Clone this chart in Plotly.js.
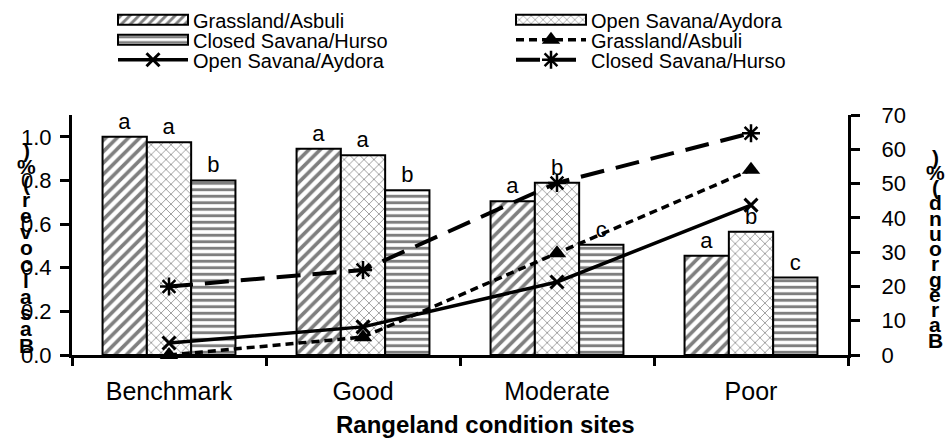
<!DOCTYPE html>
<html><head><meta charset="utf-8">
<script src="https://cdn.plot.ly/plotly-3.0.1.min.js"></script>
<style>html,body{margin:0;padding:0;background:#fff}</style>
</head><body><div id="chart" style="width:946px;height:440px"></div>
<script>
const categories = ['Benchmark', 'Good', 'Moderate', 'Poor'];
const seriesNames = ['Grassland/Asbuli', 'Open Savana/Aydora', 'Closed Savana/Hurso'];
// basal cover (left axis, bars)
const coverGrassland = [1.0, 0.945, 0.705, 0.455];
const coverOpen = [0.975, 0.915, 0.79, 0.565];
const coverClosed = [0.80, 0.755, 0.505, 0.355];
// significance letters above bars
const lettersGrassland = ['a', 'a', 'a', 'a'];
const lettersOpen = ['a', 'a', 'b', 'b'];
const lettersClosed = ['b', 'b', 'c', 'c'];
// bare ground (right axis, lines)
const bareGrassland = [0, 5.2, 29.7, 54];
const bareOpen = [3.5, 8.2, 21.3, 43.7];
const bareClosed = [20, 24.8, 50.2, 64.7];
// ticks
const leftTickVals = [0, 0.2, 0.4, 0.6, 0.8, 1.0];
const leftTickText = ['0.0', '0.2', '0.4', '0.6', '0.8', '1.0'];
const rightTickVals = [0, 10, 20, 30, 40, 50, 60, 70];
const rightTickText = ['0', '10', '20', '30', '40', '50', '60', '70'];
const leftTitle = 'Basal cover (%)';
const rightTitle = 'Bare ground (%)';
const xTitle = 'Rangeland condition sites';

const FONT = 'Liberation Sans, Arial, sans-serif';
const barPatterns = [
  {shape: '/', size: 8, solidity: 0.45},
  {shape: 'x', size: 7, solidity: 0.2},
  {shape: '-', size: 6.5, solidity: 0.45}
];
const barValues = [coverGrassland, coverOpen, coverClosed];
const barLetters = [lettersGrassland, lettersOpen, lettersClosed];

const traces = [];
for (let i = 0; i < 3; i++) {
  traces.push({
    type: 'bar', name: seriesNames[i], x: categories, y: barValues[i],
    xaxis: 'x', yaxis: 'y',
    text: barLetters[i], textposition: 'outside', cliponaxis: false,
    constraintext: 'none',
    textfont: {family: FONT, size: 22, color: '#000'},
    marker: {color: '#fff', line: {color: '#000', width: 2},
      pattern: Object.assign({fgcolor: '#000', bgcolor: '#fff', fillmode: 'overlay'}, barPatterns[i])},
    hoverinfo: 'skip'
  });
}
traces.push({
  type: 'scatter', mode: 'lines+markers', name: seriesNames[0], x: categories, y: bareGrassland,
  xaxis: 'x', yaxis: 'y2', cliponaxis: false,
  line: {color: '#000', width: 3.5, dash: '8px,5px'},
  marker: {symbol: 'triangle-up', size: 16, color: '#000'}
});
traces.push({
  type: 'scatter', mode: 'lines+markers', name: seriesNames[1], x: categories, y: bareOpen,
  xaxis: 'x', yaxis: 'y2', cliponaxis: false,
  line: {color: '#000', width: 3.5},
  marker: {symbol: 'x-thin', size: 13, color: '#000', line: {color: '#000', width: 3}}
});
traces.push({
  type: 'scatter', mode: 'lines+markers', name: seriesNames[2], x: categories, y: bareClosed,
  xaxis: 'x', yaxis: 'y2', cliponaxis: false,
  line: {color: '#000', width: 4, dash: '24px,12px'},
  marker: {symbol: 'asterisk', size: 15, color: '#000', line: {color: '#000', width: 2.5}}
});

const M = {l: 72, r: 98, t: 115, b: 85, autoexpand: false};
const plotH = 440 - M.t - M.b, plotW = 946 - M.l - M.r;
const pxX = px => (px - M.l) / plotW;
const pxY = py => (440 - M.b - py) / plotH;
const annotations = [];
function stackTitle(str, xPx, yBottomPx, step) {
  const chars = str.replace(/ /g, '').split('');
  chars.forEach((c, k) => {
    annotations.push({
      xref: 'paper', yref: 'paper', x: pxX(xPx), y: pxY(yBottomPx - k * step),
      text: '<b>' + c + '</b>', showarrow: false, xanchor: 'center', yanchor: 'middle',
      font: {family: FONT, size: 21, color: '#000'}
    });
  });
}
stackTitle(leftTitle, 26, 345, 16.2);
stackTitle(rightTitle, 935, 340, 15.25);
annotations.push({
  xref: 'paper', yref: 'paper', x: pxX(485), y: pxY(424),
  text: '<b>' + xTitle + '</b>', showarrow: false, xanchor: 'center', yanchor: 'middle',
  font: {family: FONT, size: 24, color: '#000'}
});

const axisCommon = {showgrid: false, zeroline: false, showline: true, linecolor: '#000', linewidth: 3,
  ticks: 'outside', tickcolor: '#000', tickwidth: 3, tickfont: {family: FONT, size: 22, color: '#000'}};

const layout = {
  width: 946, height: 440, margin: M, paper_bgcolor: '#fff', plot_bgcolor: 'rgba(0,0,0,0)',
  font: {family: FONT, color: '#000'},
  barmode: 'group', bargap: 0.315, bargroupgap: 0,
  showlegend: true,
  legend: {orientation: 'h', x: pxX(113), xanchor: 'left', y: 1 + (M.t - 2) / plotH, yanchor: 'top',
    entrywidth: 200, entrywidthmode: 'pixels', itemwidth: 70, font: {family: FONT, size: 20, color: '#000'},
    bgcolor: 'rgba(0,0,0,0)', traceorder: 'normal'},
  xaxis: Object.assign({}, axisCommon, {type: 'category', range: [-0.5, 3.5], tickson: 'boundaries', ticklen: 8,
    tickfont: {family: FONT, size: 25, color: '#000'}, ticklabelstandoff: 12}),
  xaxis2: {overlaying: 'x', anchor: 'y', type: 'linear', range: [-0.5, 3.5], tickvals: [-0.5, 0.5, 1.5, 2.5, 3.5],
    ticks: 'inside', ticklen: 8, tickwidth: 3, tickcolor: '#000', showticklabels: false, showline: false,
    showgrid: false, zeroline: false},
  yaxis: Object.assign({}, axisCommon, {range: [0, 1.1], tickvals: leftTickVals, ticktext: leftTickText, ticklen: 9,
    ticklabelstandoff: 4}),
  yaxis2: Object.assign({}, axisCommon, {overlaying: 'y', side: 'right', range: [0, 70], tickvals: rightTickVals,
    ticktext: rightTickText, ticklen: 9, ticklabelstandoff: 17}),
  yaxis3: {overlaying: 'y', side: 'left', anchor: 'x', range: [0, 1.1], tickvals: leftTickVals, ticks: 'inside', ticklen: 8,
    tickwidth: 3, tickcolor: '#000', showticklabels: false, showline: false, showgrid: false, zeroline: false},
  yaxis4: {overlaying: 'y', side: 'right', anchor: 'x', range: [0, 70], tickvals: rightTickVals, ticks: 'inside', ticklen: 8,
    tickwidth: 3, tickcolor: '#000', showticklabels: false, showline: false, showgrid: false, zeroline: false},
  annotations: annotations
};

// legend arrangement to match the reference (2 columns, 3 tight rows, wide swatches)
const legendTextLeft = [193, 591];
const legendRowCenter = [20.5, 40.5, 60.5];

function arrangeLegend(gd) {
  const items = Array.from(gd.querySelectorAll('.legend .traces'));
  if (!items.length) return;
  const localX = (el, grp, x) => { const m = grp.getCTM().inverse().multiply(el.getCTM()); return m.a * x + m.e; };
  const lineItem = items.find(it => it.querySelector('.legendlines path'));
  if (lineItem) {
    const lp = lineItem.querySelector('.legendlines path');
    const lb = lp.getBBox();
    const L0 = localX(lp, lineItem, lb.x), L1 = localX(lp, lineItem, lb.x + lb.width);
    items.forEach(it => {
      if (it.querySelector('.legendlines path')) return;
      const p = it.querySelector('.legendpoints path');
      if (!p) return;
      const B0 = localX(p, it, 0);
      const x0 = L0 - B0, x1 = L1 - B0;
      p.setAttribute('d', 'M' + x0 + ',-5H' + x1 + 'V5H' + x0 + 'Z');
    });
  }
  gd.querySelectorAll('.legend [clip-path]').forEach(e => e.removeAttribute('clip-path'));
  items.forEach((it, i) => {
    const m = /translate\(\s*([-\d.e]+)[\s,]+([-\d.e]+)\s*\)/.exec(it.getAttribute('transform') || '');
    const x = m ? +m[1] : 0, y = m ? +m[2] : 0;
    const c = i % 2, r = Math.min(Math.floor(i / 2), 2);
    const t = it.querySelector('text.legendtext');
    const bb = t.getBoundingClientRect();
    const dx = legendTextLeft[c] - bb.left;
    const dy = legendRowCenter[r] - (bb.top + bb.bottom) / 2;
    it.setAttribute('transform', 'translate(' + (x + dx) + ',' + (y + dy) + ')');
  });
}

const gd = document.getElementById('chart');
Plotly.newPlot(gd, traces, layout, {displayModeBar: false, staticPlot: true}).then(() => arrangeLegend(gd));
</script>
</body></html>
